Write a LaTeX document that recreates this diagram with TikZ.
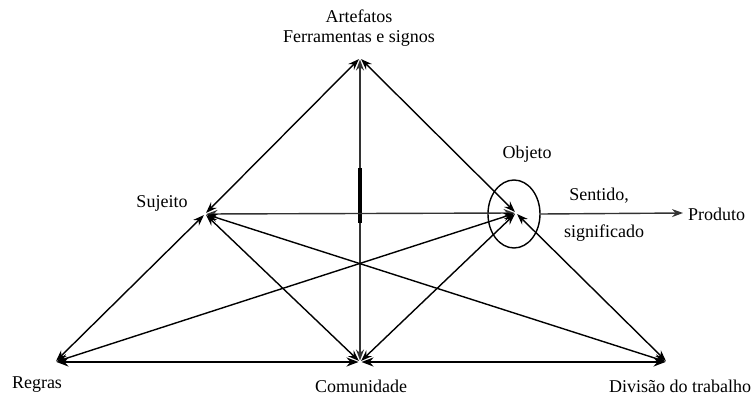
\documentclass[tikz,border=0pt]{standalone}
\usepackage{fontspec}
\setmainfont{Liberation Serif}
\usetikzlibrary{arrows.meta,shapes.geometric}
\begin{document}
\begin{tikzpicture}[x=1pt,y=-1pt,
  lbl/.style={anchor=base,inner sep=0pt,font=\fontsize{18}{20}\selectfont},
  conn/.style={line width=1.4pt,{Stealth[length=11pt,width=8pt]}-{Stealth[length=11pt,width=8pt]},shorten <=1.5pt,shorten >=1.5pt},
  thickconn/.style={conn,line width=2.8pt,{Stealth[length=12pt,width=9pt]}-{Stealth[length=12pt,width=9pt]}},
  oneway/.style={line width=1.4pt,-{Stealth[length=11pt,width=8pt]}}]
\useasboundingbox (0,0) rectangle (753,396);
% vertices
\coordinate (A) at (360,58);
\coordinate (S) at (205,214);
\coordinate (O) at (516,213);
\coordinate (R) at (55,362);
\coordinate (C) at (360,362);
\coordinate (D) at (667,362);
\coordinate (T1) at (360,168);
\coordinate (T2) at (360,223);
\coordinate (P) at (683,213);
% ellipse around Objeto
\node[draw,ellipse,line width=1.4pt,minimum width=52pt,minimum height=68pt,inner sep=0pt] (obj) at (514,214) {};
% labels
\node[lbl] (art) at (359,23) {Artefatos};
\node[lbl] (ferr) at (359,43) {Ferramentas e signos};
\node[lbl] (objl) at (527,158) {Objeto};
\node[lbl] (sent) at (599,200) {Sentido,};
\node[lbl] (sig) at (604,237) {significado};
\node[lbl,anchor=base west] (prod) at (688,220) {Produto};
\node[lbl] (suj) at (162,207) {Sujeito};
\node[lbl] (reg) at (37,388) {Regras};
\node[lbl] (com) at (361,392) {Comunidade};
\node[lbl] (div) at (680,392) {Divisão do trabalho};
% connectors
\draw[conn] (S) -- (A);
\draw[conn] (O) -- (A);
\draw[conn,black!80] (C) -- (A);
\draw[line width=3.5pt] (T1) -- (T2);
\draw[conn,black!80] (S) -- (O);
\draw[oneway,black!80] (obj.east) -- (P);
\draw[conn] (S) -- (R);
\draw[conn] (S) -- (C);
\draw[conn] (S) -- (D);
\draw[conn] (R) -- (O);
\draw[conn] (C) -- (O);
\draw[conn] (D) -- (O);
\draw[thickconn] (R) -- (C);
\draw[thickconn] (D) -- (C);
\end{tikzpicture}
\end{document}
